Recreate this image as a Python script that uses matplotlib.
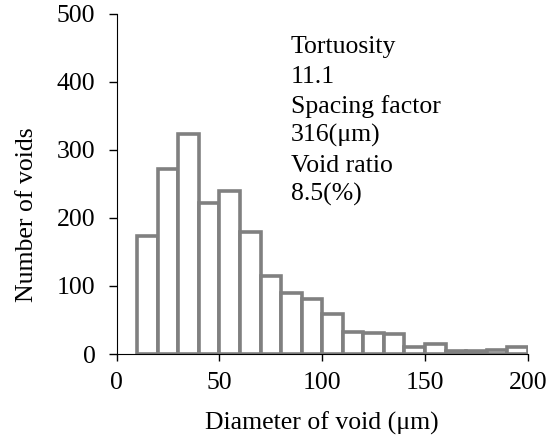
import numpy as np
import matplotlib.pyplot as plt

plt.rcParams['font.family'] = ['Liberation Serif', 'DejaVu Serif']

# bin edges (um) and counts
bin_left = [10, 20, 30, 40, 50, 60, 70, 80, 90, 100,
            110, 120, 130, 140, 150, 160, 170, 180, 190]
counts = [174, 272, 323, 222, 239, 179, 115, 89, 81, 59,
          33, 31, 29, 10, 14, 5, 5, 6, 10]
bin_width = 10

info_lines = ["Tortuosity", "11.1", "Spacing factor", "316(\u03bcm)", "Void ratio", "8.5(%)"]

fs = 18.5
fig = plt.figure(figsize=(5.5, 4.44), dpi=100)
ax = fig.add_axes([0.2122, 0.2027, 0.7473, 0.7658])

ax.bar(bin_left, counts, width=bin_width, align='edge',
       facecolor='white', edgecolor='#808080', linewidth=2.6)

ax.set_xlim(0, 200)
ax.set_ylim(0, 500)
ax.set_xticks([0, 50, 100, 150, 200])
ax.set_yticks([0, 100, 200, 300, 400, 500])
ax.spines['top'].set_visible(False)
ax.spines['right'].set_visible(False)
ax.tick_params(labelsize=fs, direction='out', width=1)
ax.tick_params(axis='y', length=5.8, pad=9.5)
ax.tick_params(axis='x', length=4.7, pad=8)
ax.set_xlabel('Diameter of void (\u03bcm)', fontsize=fs)
ax.set_ylabel('Number of voids', fontsize=fs)
ax.xaxis.set_label_coords(0.5, -0.168)
ax.yaxis.set_label_coords(-0.191, 0.409)

# text block (baselines in data units)
text_y = [443, 399, 355, 312, 268, 226]
for s, ty in zip(info_lines, text_y):
    ax.text(84.7, ty, s, fontsize=fs, va='baseline', ha='left')

fig.savefig('out.png', dpi=100)
